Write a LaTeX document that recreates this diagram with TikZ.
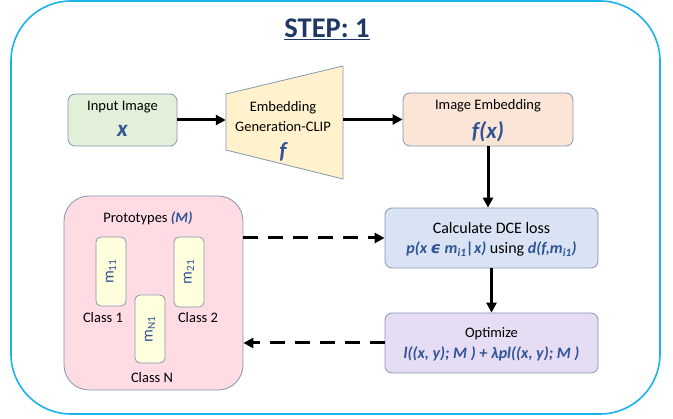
\documentclass[tikz,border=0pt]{standalone}
\usepackage{fontspec}
\setmainfont{Carlito}
\newfontfamily\djv{DejaVu Sans}
\usetikzlibrary{arrows.meta}
\definecolor{boxgray}{HTML}{8497B0}
\definecolor{outerblue}{HTML}{1AB3EC}
\definecolor{tblue}{HTML}{2F5597}
\definecolor{titleblue}{HTML}{1F3864}
\definecolor{fgreen}{HTML}{E2F0D9}
\definecolor{ftrap}{HTML}{FFF2CC}
\definecolor{fpeach}{HTML}{FBE5D6}
\definecolor{fblue}{HTML}{DAE3F3}
\definecolor{flav}{HTML}{E6DCF3}
\definecolor{fpink}{HTML}{FFDCE3}
\definecolor{fyellow}{HTML}{FFFFDD}
\begin{document}
\begin{tikzpicture}[x=1pt,y=-1pt,
  box/.style={draw=boxgray, line width=0.8pt, rounded corners=7pt, align=center, inner sep=0pt},
  arr/.style={line width=3pt, -{Triangle[length=10pt,width=10pt]}},
  darr/.style={arr, dash pattern=on 15pt off 10pt},
  mbox/.style={draw=boxgray, line width=0.8pt, fill=fyellow, rounded corners=5pt, minimum width=30pt, inner sep=0pt},
  mtxt/.style={text=tblue, rotate=90, inner sep=0pt, font=\fontsize{16}{19}\selectfont},
  lbl/.style={inner sep=0pt, font=\fontsize{14.5}{17}\selectfont},
  lblb/.style={inner sep=0pt, font=\fontsize{16}{19}\selectfont},
  mth/.style={text=tblue, inner sep=0pt, font=\fontsize{23}{26}\selectfont\bfseries\itshape}
]
\useasboundingbox (0,0) rectangle (673,419);
\draw[outerblue, line width=1.6pt, rounded corners=60pt] (11,1) rectangle (660,414);

\node[text=titleblue, font=\fontsize{28.5}{32}\selectfont\bfseries, inner sep=0pt] (title) at (327,29) {\underline{STEP: 1}};

% input
\node[box, fill=fgreen, minimum width=109pt, minimum height=52pt] (in) at (122.5,120) {};
\node[lbl] (inT) at (122.5,107) {Input Image};
\node[mth] (inX) at (122.5,131) {x};

% trapezoid
\node[minimum width=117pt, minimum height=113pt, inner sep=0pt] (emb) at (284.5,122.5) {};
\draw[boxgray, line width=0.8pt, fill=ftrap] (226,94) -- (343,66) -- (343,179) -- (226,150) -- cycle;
\node[lbl] (embT1) at (283,108) {Embedding};
\node[lbl] (embT2) at (283,127) {Generation-CLIP};
\node[mth] (embF) at (283,152) {f};

% image embedding
\node[box, fill=fpeach, minimum width=170pt, minimum height=53pt] (img) at (488,119.5) {};
\node[lbl] (imgT) at (488,106) {Image Embedding};
\node[mth] (imgF) at (488,132) {f(x)};

% DCE
\node[box, fill=fblue, minimum width=213pt, minimum height=60pt] (dce) at (491.5,238) {};
\node[lblb] (dceT1) at (491.5,228) {Calculate DCE loss};
\node[lblb] (dceT2) at (491.5,249) {{\bfseries\itshape\color{tblue}p(x {\djv\bfseries\itshape ϵ} m\textsubscript{i1}|x)} using {\bfseries\itshape\color{tblue}d(f,m\textsubscript{i1})}};

% Optimize
\node[box, fill=flav, minimum width=213pt, minimum height=60pt] (opt) at (491.5,343) {};
\node[lbl] (optT1) at (491.5,334) {Optimize};
\node[lblb, text=tblue, font=\fontsize{16}{19}\selectfont\bfseries\itshape] (optT2) at (491.5,354) {l((x, y); M ) + λpl((x, y); M )};

% Prototypes
\node[box, fill=fpink, rounded corners=25pt, minimum width=179pt, minimum height=194pt] (proto) at (153.5,293) {};
\node[lbl] (protoT) at (148,218) {Prototypes {\bfseries\itshape\color{tblue}(M)}};
\node[mbox, minimum height=69pt] (m11) at (111,271.5) {};
\node[mbox, minimum height=70pt] (m21) at (189,272) {};
\node[mbox, minimum height=68pt] (mN1) at (150,329) {};
\node[mtxt] (m11T) at (m11) {m\textsubscript{11}};
\node[mtxt] (m21T) at (m21) {m\textsubscript{21}};
\node[mtxt] (mN1T) at (mN1) {m\textsubscript{N1}};
\node[lbl] (c1) at (103,318) {Class 1};
\node[lbl] (c2) at (198,318) {Class 2};
\node[lbl] (cN) at (152,378) {Class N};

% connectors
\draw[arr] (in.east) -- (in.east -| emb.west);
\draw[arr] (emb.east |- img.west) -- (img.west);
\draw[arr] (img.south) -- (img.south |- dce.north);
\draw[arr] (dce.south) -- (opt.north);
\draw[darr] (proto.east |- dce.west) -- (dce.west);
\draw[darr] (opt.west) -- (opt.west -| proto.east);
\end{tikzpicture}
\end{document}
